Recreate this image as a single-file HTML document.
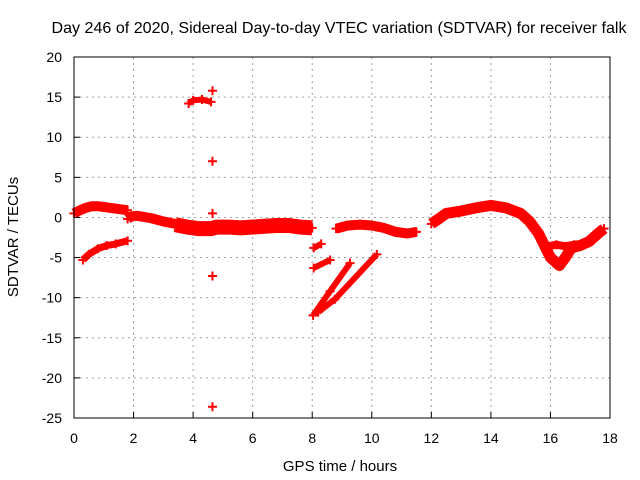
<!DOCTYPE html>
<html><head><meta charset="utf-8"><style>
body{margin:0;background:#fff;width:640px;height:480px;overflow:hidden}
svg{display:block;font-family:"Liberation Sans",sans-serif}
</style></head><body>
<svg id="chart" width="640" height="480" viewBox="0 0 640 480">
<text x="339" y="33" font-size="16" text-anchor="middle" fill="#000" textLength="575" lengthAdjust="spacingAndGlyphs">Day 246 of 2020, Sidereal Day-to-day VTEC variation (SDTVAR) for receiver falk</text>
<text x="340" y="471" font-size="15" text-anchor="middle" fill="#000">GPS time / hours</text>
<text x="18" y="237" font-size="15" text-anchor="middle" fill="#000" transform="rotate(-90 18 237)">SDTVAR / TECUs</text>
<g id="grid"></g>
<g id="marks"></g>
<rect x="74" y="57" width="536" height="361" fill="none" stroke="#000" stroke-width="1"/>
<g id="ticks"></g>
</svg>
<script>
const xTicks=[0,2,4,6,8,10,12,14,16,18];
const yTicks=[20,15,10,5,0,-5,-10,-15,-20,-25];
const mainAHours=[0,0.2,0.4,0.6,0.8,1.0,1.2,1.4,1.6,1.8];
const mainAVals=[0.5,0.9,1.2,1.4,1.4,1.3,1.2,1.1,1.0,0.9];
const mainBHours=[1.8,1.9,2.1,2.3,2.6,3.0,3.4];
const mainBVals=[-0.2,0.1,0.2,0.1,-0.1,-0.5,-0.8];
const mainCHours=[3.4,3.8,4.2,4.6,4.8,5.2,5.6,6.0,6.4,6.8,7.2,7.6,8.0];
const mainCVals=[-0.9,-1.2,-1.4,-1.4,-1.2,-1.2,-1.3,-1.2,-1.1,-1.0,-1.0,-1.2,-1.3];
const lowHours=[0.3,0.5,0.8,1.1,1.4,1.8];
const lowVals=[-5.3,-4.6,-3.9,-3.5,-3.3,-2.9];
const arcHours=[3.85,4.0,4.3,4.6];
const arcVals=[14.2,14.6,14.7,14.4];
const outHours=[4.65,4.65,4.65,4.65,4.65];
const outVals=[15.8,7.0,0.5,-7.3,-23.6];
const s1Hours=[8.05,8.3];const s1Vals=[-3.8,-3.3];
const s2Hours=[8.05,8.6];const s2Vals=[-6.3,-5.3];
const d1Hours=[8.03,8.6,9.27];const d1Vals=[-12.2,-9.2,-5.7];
const d2Hours=[8.2,8.76,10.17];const d2Vals=[-11.8,-10.2,-4.6];
const eHours=[8.8,9.2,9.6,10.0,10.4,10.8,11.2,11.5];
const eVals=[-1.4,-1.0,-0.9,-1.0,-1.3,-1.8,-2.0,-1.8];
const lateHours=[12.0,12.2,12.5,13.0,13.5,14.0,14.5,15.0,15.3,15.6,15.8,16.0,16.3,16.5,16.7,17.0,17.3,17.6,17.8];
const lateVals=[-0.8,-0.3,0.5,0.8,1.2,1.5,1.2,0.5,-0.5,-2.0,-3.5,-5.0,-6.0,-5.0,-3.8,-3.5,-3.0,-2.0,-1.4];
const loopHours=[15.9,16.2,16.5,16.8,17.1];
const loopVals=[-3.6,-3.4,-3.6,-3.4,-3.3];

const NS='http://www.w3.org/2000/svg';
const X=h=>74+h*(536/18);
const Y=v=>57+(20-v)*(361/45);
const grid=document.getElementById('grid'),ticks=document.getElementById('ticks'),marks=document.getElementById('marks');
function el(t,a,p){const e=document.createElementNS(NS,t);for(const k in a)e.setAttribute(k,a[k]);p.appendChild(e);return e;}
xTicks.forEach(t=>{
  if(t>0&&t<18){const g=el('line',{x1:X(t),x2:X(t),y1:57,y2:418,stroke:'#a0a0a0','stroke-dasharray':'2,4'},grid);
  
  }
  const tk=el('line',{x1:X(t),x2:X(t),y1:418,y2:412,stroke:'#000'},ticks);
  
  
  const lb=el('text',{x:X(t),y:443,'font-size':14,'text-anchor':'middle'},ticks);lb.textContent=t;
  
  
});
yTicks.forEach(t=>{
  if(t<20&&t>-25){const g=el('line',{x1:74,x2:610,y1:Y(t),y2:Y(t),stroke:'#a0a0a0','stroke-dasharray':'2,4'},grid);
  
  }
  const tk=el('line',{x1:74,x2:80,y1:Y(t),y2:Y(t),stroke:'#000'},ticks);
  
  
  const lb=el('text',{x:62,y:Y(t)+5,'font-size':14,'text-anchor':'end'},ticks);lb.textContent=t;
  
  
});
function series(name,hs,vs,w,line){
  const g=el('g',{},marks);
  
  
  if(line){const pl=el('polyline',{points:hs.map((h,i)=>X(h)+','+Y(vs[i])).join(' '),fill:'none',stroke:'#f00','stroke-width':w,'stroke-linejoin':'round','stroke-linecap':'butt'},g);
  
  }
  hs.forEach((h,i)=>{const x=X(h),y=Y(vs[i]);
    const p=el('path',{d:`M${x-4.5},${y}H${x+4.5}M${x},${y-4.5}V${y+4.5}`,stroke:'#f00','stroke-width':2},g);
    
    });
}
series('main-track-a',mainAHours,mainAVals,10,true);
series('main-track-b',mainBHours,mainBVals,10,true);
series('main-track-c',mainCHours,mainCVals,15,true);
series('lower-track',lowHours,lowVals,7,true);
series('high-arc',arcHours,arcVals,6,true);
series('outliers',outHours,outVals,0,false);
series('segment-a',s1Hours,s1Vals,6,true);
series('segment-b',s2Hours,s2Vals,6,true);
series('diagonal-1',d1Hours,d1Vals,6,true);
series('diagonal-2',d2Hours,d2Vals,6,true);
series('mid-track',eHours,eVals,10,true);
series('late-track',lateHours,lateVals,11,true);
series('late-loop',loopHours,loopVals,8,true);
</script>
</body></html>
